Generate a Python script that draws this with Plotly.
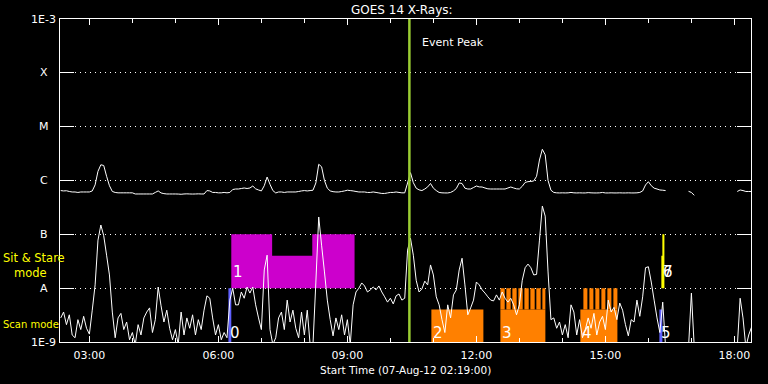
import numpy as np
import pandas as pd
import plotly.graph_objects as go

# ---------------- data ----------------
DAY = "2012-08-07 "
# GOES-14 XRS samples, 4-minute cadence starting 02:20 UT
sample_start = "2012-08-07 02:20:00"
n_samples = 242
times = pd.date_range(sample_start, periods=n_samples, freq="4min")

NW = 1e-9  # values below are in nW/m^2 (1e-9 W/m^2)

# 0.5-4 A channel (short wavelength)
xrs_short = [
    2.8, 3.6, 2.1, 3.2, 1.35, 1.2, 2.6, 1.7, 3.0, 1.8, 1.4, 3.9, 11.5, 78, 149, 94, 41, 17.6, 3.6, 1.2,
    2.8, 3.4, 1.7, 2.35, 1.1, 1.5, 0.9, 2.1, 1.35, 2.8, 3.6, 4.3, 1.5, 2.6, 10.5, 4.7, 2.35, 3.9, 1.8, 1.1,
    1.7, 0.9, 3.6, 1.35, 2.8, 1.8, 3.2, 1.35, 2.6, 1.7, 3.9, 7.2, 6.5, 2.8, 1.35, 2.1, 1.1, 1.5, 1.2, 6.0,
    10, 4.9, 4.9, 8.5, 6.5, 10.5, 8.1, 10.5, 4.9, 2.8, 1.7, 21.8, 41, 1.7, 0.9, 1.2, 2.8, 3.6, 1.7, 6.0,
    2.35, 3.9, 1.8, 1.2, 3.6, 1.35, 3.9, 0.9, 0.9, 13, 210, 63, 20, 6.0, 2.6, 1.3, 2.8, 1.7, 3.2, 1.35,
    2.6, 0.9, 4.9, 8.5, 10, 12.5, 11, 8.5, 9.3, 10.5, 9.3, 11, 8.5, 6.9, 5.5, 6.5, 5.1, 7.2, 7.8, 6.0,
    6.5, 51, 85, 41, 14, 8.5, 9.7, 13.5, 11.5, 27, 17.6, 6.9, 4.9, 2.6, 1.5, 4.9, 2.8, 7.5, 9.3, 21.8,
    36, 11.5, 3.2, 4.3, 6.0, 13, 11.5, 9.3, 8.1, 6.9, 6.0, 5.8, 7.5, 6.0, 8.5, 6.5, 5.5, 6.5, 4.9, 3.2,
    4.9, 14, 24, 28, 24, 17.6, 18, 78, 335, 218, 20, 2.6, 2.8, 1.8, 2.35, 1.35, 2.1, 1.2, 4.9, 3.6,
    1.35, 2.6, 1.2, 1.7, 2.8, 1.8, 3.4, 1.35, 2.35, 3.0, 1.7, 6.0, 3.6, 4.4, 2.6, 5.3, 3.9, 2.1, 1.3, 2.6,
    2.35, 6.0, 3.0, 6.9, 24, 25, 13, 6.0, 2.8, 1.5, 5.5, 0.8, None, None, None, None, None, None, None, 0.8,
    8.1, 0.8, None, None, None, None, None, None, None, None, None, None, None, None, None, None,
    0.8, 6.5, 2.8, 0.8, 1.35, 1.9,
]

# 1-8 A channel (long wavelength)
xrs_long = [
    650, 640, 645, 625, 612, 612, 600, 612, 612, 612, 612, 640, 830, 1480, 1960, 1900, 1200, 800, 625, 600,
    590, 590, 590, 590, 590, 590, 562, 562, 562, 562, 562, 562, 562, 600, 640, 587, 570, 562, 562, 562,
    562, 560, 555, 562, 565, 562, 560, 562, 565, 562, 562, 650, 640, 600, 600, 590, 590, 600, 590, 600,
    680, 695, 695, 710, 726, 710, 726, 790, 700, 667, 640, 800, 1160, 850, 650, 587, 612, 612, 600, 612,
    612, 612, 612, 625, 640, 650, 640, 650, 660, 900, 2000, 1800, 1000, 720, 640, 620, 612, 612, 625, 640,
    660, 650, 640, 625, 612, 612, 612, 600, 600, 612, 600, 587, 575, 575, 587, 600, 600, 612, 600, 590,
    590, 900, 1400, 910, 720, 670, 650, 695, 760, 880, 720, 650, 600, 590, 587, 587, 600, 640, 710, 900,
    880, 720, 695, 695, 740, 790, 760, 757, 726, 700, 695, 695, 695, 695, 695, 695, 726, 757, 726, 700,
    695, 780, 920, 951, 960, 980, 1200, 2400, 3800, 3000, 1000, 660, 600, 590, 587, 590, 587, 590, 600, 590,
    587, 590, 587, 587, 595, 590, 587, 587, 590, 600, 587, 587, 590, 587, 587, 590, 587, 587, 590, 587,
    587, 590, 600, 640, 826, 950, 800, 720, 695, 667, 660, 650, None, None, None, None, None, None, None, 630,
    600, 530, None, None, None, None, None, None, None, None, None, None, None, None, None, None,
    625, 667, 650, 625, 625, 625,
]

# GOES class levels (W/m^2)
level_values = [1e-9, 1e-8, 1e-7, 1e-6, 1e-5, 1e-4, 1e-3]
level_labels = ["1E-9", "A", "B", "C", "M", "X", "1E-3"]

event_peak = "10:26:30"

# Sit & Stare observation (event 1, three pointings)
sit_start = ["06:18:00", "07:15:00", "08:11:00"]
sit_end = ["07:15:00", "08:11:00", "09:10:00"]
sit_low = [1e-8, 1e-8, 1e-8]
sit_high = [1e-7, 4e-8, 1e-7]

# Scan mode observations (events 2, 3, 4)
scan_start = ["10:57:12", "12:33:30", "14:25:05"]
scan_end = ["12:09:45", "13:36:15", "15:16:45"]
scan_low = [1e-9, 1e-9, 1e-9]
scan_high = [4e-9, 4e-9, 4e-9]

# Raster steps of the scan observations
raster_start = ["12:33:30", "12:41:50", "12:50:10", "12:58:36", "13:07:00", "13:15:20", "13:23:40", "13:32:05",
                "14:29:18", "14:37:40", "14:46:00", "14:54:25", "15:02:45", "15:11:10"]
raster_end = ["12:39:30", "12:47:50", "12:56:10", "13:04:36", "13:13:00", "13:21:20", "13:29:40", "13:36:15",
              "14:34:53", "14:43:15", "14:51:35", "15:00:00", "15:08:20", "15:16:45"]
raster_low = 4e-9
raster_high = 1e-8

# Short observations (events 0 and 5: scan, 6 and 7: sit & stare)
short_scan_start = ["06:14:00", "16:15:20"]
short_scan_end = ["06:18:00", "16:19:30"]
short_scan_low = [1e-9, 1e-9]
short_scan_high = [1e-8, 4e-9]
short_sit_start = ["16:18:05", "16:19:30"]
short_sit_end = ["16:22:20", "16:22:20"]
short_sit_low = [1e-8, 1e-8]
short_sit_high = [4e-8, 1e-7]

event_ids = ["0", "1", "2", "3", "4", "5", "6", "7"]
event_label_time = ["06:14:00", "06:18:00", "10:57:12", "12:33:30", "14:25:05", "16:15:20", "16:18:05", "16:18:05"]
event_label_mode = ["scan", "sit", "scan", "scan", "scan", "scan", "sit", "sit"]

# ---------------- figure ----------------
fig = go.Figure()


def rect_trace(starts, ends, lows, highs, color):
    xs, ys = [], []
    for s, e, lo, hi in zip(starts, ends, lows, highs):
        s, e = DAY + s, DAY + e
        xs += [s, e, e, s, s, None]
        ys += [lo, lo, hi, hi, lo, None]
    return go.Scatter(x=xs, y=ys, mode="lines", fill="toself", fillcolor=color,
                      line=dict(width=0, color=color), hoverinfo="skip", showlegend=False)


MAGENTA = "#cc00cc"
ORANGE = "#ff8000"
BLUE = "#6060ff"
YELLOW = "#ffff00"

fig.add_trace(rect_trace(sit_start, sit_end, sit_low, sit_high, MAGENTA))
fig.add_trace(rect_trace(scan_start, scan_end, scan_low, scan_high, ORANGE))
fig.add_trace(rect_trace(raster_start, raster_end, [raster_low] * len(raster_start),
                         [raster_high] * len(raster_start), ORANGE))
fig.add_trace(rect_trace(short_scan_start, short_scan_end, short_scan_low, short_scan_high, BLUE))
fig.add_trace(rect_trace(short_sit_start, short_sit_end, short_sit_low, short_sit_high, YELLOW))

short_w = [None if v is None else v * NW for v in xrs_short]
long_w = [None if v is None else v * NW for v in xrs_long]

fig.add_trace(go.Scatter(x=times, y=short_w, mode="lines", line=dict(color="white", width=1, simplify=False),
                         connectgaps=False, showlegend=False))
fig.add_trace(go.Scatter(x=times, y=long_w, mode="lines", line=dict(color="white", width=1, simplify=False),
                         connectgaps=False, showlegend=False))

fig.add_trace(go.Scatter(x=[DAY + event_peak, DAY + event_peak], y=[level_values[0], level_values[-1]],
                         mode="lines", line=dict(color="#9acd32", width=2.5), showlegend=False))

FONT = "DejaVu Sans"
ann = []
# class labels on the left
for v, lab in zip(level_values, level_labels):
    ann.append(dict(x=-0.0232, xref="paper", y=np.log10(v), yref="y", text=lab, showarrow=False,
                    xanchor="center", yanchor="middle", font=dict(family=FONT, size=11, color="white")))
# mode legends
ann.append(dict(x=-0.086, xref="paper", y=0.238, yref="paper",
                text="Sit & Stare<br>&nbsp;&nbsp;&nbsp;mode", showarrow=False, align="left",
                xanchor="left", yanchor="middle", font=dict(family=FONT, size=11.5, color=YELLOW)))
ann.append(dict(x=-0.086, xref="paper", y=0.0557, yref="paper", text="Scan mode", showarrow=False,
                xanchor="left", yanchor="middle", font=dict(family=FONT, size=10, color=YELLOW)))
# event peak
ann.append(dict(x=0.521, xref="paper", y=0.926, yref="paper", text="Event Peak", showarrow=False,
                xanchor="left", yanchor="middle", font=dict(family=FONT, size=11, color="white")))
# title and x title
ann.append(dict(x=0.495, xref="paper", y=1.028, yref="paper", text="GOES 14 X-Rays:", showarrow=False,
                xanchor="center", yanchor="middle", font=dict(family=FONT, size=12, color="white")))
ann.append(dict(x=0.4993, xref="paper", y=-0.0867, yref="paper", text="Start Time (07-Aug-12 02:19:00)",
                showarrow=False, xanchor="center", yanchor="middle",
                font=dict(family=FONT, size=10.5, color="white")))
# event numbers
for eid, et, mode in zip(event_ids, event_label_time, event_label_mode):
    yv = 1.45e-9 if mode == "scan" else 2.0e-8
    ann.append(dict(x=DAY + et, xref="x", y=np.log10(yv), yref="y", text=eid, showarrow=False,
                    xanchor="left", yanchor="middle", font=dict(family=FONT, size=15, color="white")))

fig.update_layout(
    width=768, height=384,
    margin=dict(l=60, r=17, t=19, b=42),
    paper_bgcolor="black", plot_bgcolor="black",
    showlegend=False,
    font=dict(family=FONT, color="white", size=11),
    annotations=ann,
)
fig.update_xaxes(
    type="date", range=["2012-08-07 02:19:00", "2012-08-07 18:23:10"],
    tickformat="%H:%M", tick0="2012-08-07 00:00:00", dtick=3 * 3600 * 1000,
    ticks="inside", ticklen=6, tickcolor="white", tickwidth=1,
    showline=True, linecolor="white", linewidth=1, mirror="ticks",
    showgrid=False, zeroline=False, ticklabelstandoff=3,
    minor=dict(dtick=3600 * 1000, ticks="inside", ticklen=4, tickcolor="white", showgrid=False),
    tickfont=dict(family=FONT, size=11, color="white"),
)
fig.update_yaxes(
    type="log", range=[-9, -3], tickvals=level_values, showticklabels=False,
    ticks="inside", ticklen=14, tickcolor="white", tickwidth=1,
    showline=True, linecolor="white", linewidth=1, mirror="ticks",
    showgrid=True, gridcolor="white", gridwidth=1, griddash="1px,4px", zeroline=False,
)

fig.write_html(
    "out.html",
    config={"displayModeBar": False},
    post_script="document.body.style.margin='0';document.body.style.background='black';"
                "document.documentElement.style.overflow='hidden';",
)
